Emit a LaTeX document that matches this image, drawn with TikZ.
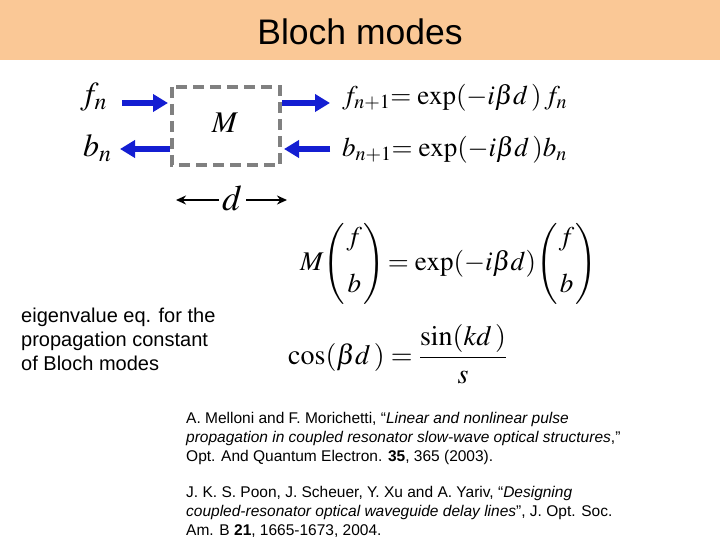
\documentclass[tikz,border=0pt]{standalone}
\usepackage{amsmath}
\usepackage{mathptmx}
\usepackage[no-math]{fontspec}
\setmainfont{Liberation Sans}
\usetikzlibrary{arrows.meta}
\definecolor{hdr}{RGB}{250,200,150}
\definecolor{arrblue}{RGB}{20,30,210}
\definecolor{boxgray}{RGB}{128,128,128}
\newcommand{\fsz}[1]{\fontsize{#1}{#1}\selectfont}
\newcommand{\fszb}[2]{\fontsize{#1}{#2}\selectfont}
\newcommand{\teq}{\mathord{=}\mkern2mu}
\newcommand{\fbvec}{\left(\mkern1mu\begin{matrix} f\\[20pt] b\end{matrix}\mkern1mu\right)}
\begin{document}
\begin{tikzpicture}[x=1pt,y=-1pt,
  bluearrow/.style={arrblue,line width=6pt,-{Triangle[length=15pt,width=17pt]}},
  darrow/.style={black,line width=2.5pt,-{Stealth[length=10pt,width=9pt]}},
  mathlbl/.style={inner sep=0pt,anchor=west},
  reftext/.style={inner sep=0pt,anchor=north west,align=left,font=\fszb{15.5}{19}}]
\useasboundingbox (0,0) rectangle (720,540);
\fill[hdr] (0,0) rectangle (720,60);
\node[inner sep=0pt,font=\fsz{35.5}] (title) at (360,32) {Bloch modes};
% box
\draw[boxgray,line width=4pt,dash pattern=on 11pt off 6pt] (172,87) rectangle (280,165);
\node[inner sep=0pt,font=\fsz{30}] (M) at (225,123) {$M$};
\coordinate (boxfl) at (168,103);
\coordinate (boxbl) at (170,149);
\coordinate (boxfr) at (282,103);
\coordinate (boxbr) at (284,149);
% labels
\node[mathlbl,font=\fsz{32}] (fn) at (80,97) {$f_n$};
\node[mathlbl,font=\fsz{32}] (bn) at (83,148) {$b_n$};
\coordinate (fnend) at (122,103);
\coordinate (bnend) at (120,149);
\node[mathlbl,font=\fsz{27}] (eq1) at (342,98) {$f_{n+1}\teq\exp(-i\beta d\,)\,f_n$};
\node[mathlbl,font=\fsz{27}] (eq2) at (342,150) {$b_{n+1}\teq\exp(-i\beta d\,)b_n$};
\coordinate (eq1s) at (330,103);
\coordinate (eq2s) at (330,149);
\draw[bluearrow] (fnend) -- (boxfl);
\draw[bluearrow] (boxbl) -- (bnend);
\draw[bluearrow] (boxfr) -- (eq1s);
\draw[bluearrow] (eq2s) -- (boxbr);
% d
\node[inner sep=0pt,font=\fsz{36}] (d) at (232,198) {$d$};
\coordinate (dl) at (176,200);
\coordinate (dr) at (287,200);
\coordinate (dls) at (219,200);
\coordinate (drs) at (246,200);
\draw[darrow] (dls) -- (dl);
\draw[darrow] (drs) -- (dr);
% eigen equations
\node[mathlbl,font=\fsz{27}] (eq3) at (300,264) {$M\!\fbvec\teq\exp(-i\beta d)\!\fbvec$};
\node[mathlbl,font=\fsz{28}] (eq4) at (288,354) {$\cos(\beta d\,)=\dfrac{\sin(kd\,)}{s}$};
% left text
\node[inner sep=0pt,anchor=north west,align=left,font=\fszb{20}{24}] (eig) at (21,308)
 {eigenvalue eq. for the\\propagation constant\\of Bloch modes};
% references
\node[reftext] (ref1) at (186,412) {A. Melloni and F. Morichetti, ``\textit{Linear and nonlinear pulse}\\\textit{propagation in coupled resonator slow-wave optical structures},''\\Opt. And Quantum Electron. \textbf{35}, 365 (2003).};
\node[reftext] (ref2) at (186,486) {J. K. S. Poon, J. Scheuer, Y. Xu and A. Yariv, ``\textit{Designing}\\\textit{coupled-resonator optical waveguide delay lines}'', J. Opt. Soc.\\Am. B \textbf{21}, 1665-1673, 2004.};
\end{tikzpicture}
\end{document}
